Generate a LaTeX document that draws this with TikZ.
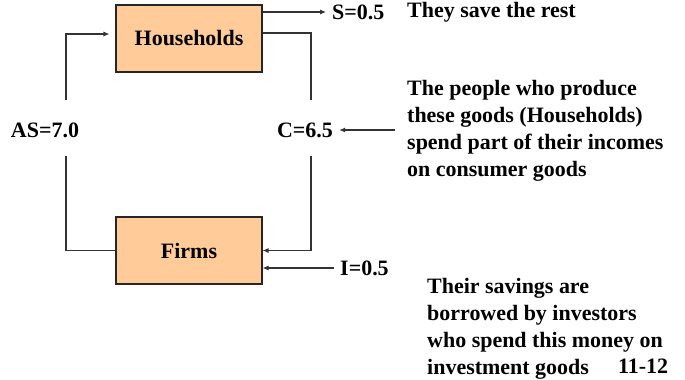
\documentclass[tikz,border=0pt]{standalone}
\usepackage{fontspec}
\setmainfont{Liberation Serif}
\usetikzlibrary{arrows.meta}
\definecolor{boxfill}{RGB}{255,204,153}

\begin{document}
\begin{tikzpicture}[x=0.02cm,y=-0.02cm,
	font=\fontsize{12.5}{15.3}\selectfont\bfseries,
	sector/.style={shape=rectangle,draw=black!85,fill=boxfill,minimum width=2.92cm,minimum height=1.34cm,line width=0.6pt},
	flow/.style={draw=black!80,line width=0.6pt},
	into/.style={flow,-{Latex[length=1.2mm,width=1mm]}},
	note/.style={anchor=west,align=left}]
	
	\useasboundingbox (0,0) rectangle (685,379);
	
	\node[sector] (hh)    at (189,38.5)  {Households};
	\node[sector] (firms) at (189,250.5) {Firms};
	
	\node[anchor=west] (s)    at (326,12)  {S=0.5};
	\node[anchor=west] (save) at (401,12)  {They save the rest};
	\node (as) at (45,130)  {AS=7.0};
	\node (c)  at (305,130) {C=6.5};
	\node[anchor=west] (i) at (334,268) {I=0.5};
	\node[note] (cons) at (401,131) {The people who produce\\these goods (Households)\\spend part of their incomes\\on consumer goods};
	\node[note] (inv)  at (421,329) {Their savings are\\borrowed by investors\\who spend this money on\\investment goods};
	\node[anchor=south,inner sep=1pt] (page) at (643,376) {11-12};
	
	\coordinate (rtop) at (311,100);
	\coordinate (rbot) at (311,156);
	\coordinate (ltop) at (66,100);
	\coordinate (lbot) at (66,156);
	
	% saving leaks out of the loop
	\draw[into] (hh.east |- s.west) -- (s.west);
	% spending on consumer goods
	\draw[flow] ([yshift=0.11cm]hh.east) -| (rtop);
	\draw[into] (rbot) |- (firms.east);
	% incomes paid back to households
	\draw[flow] (firms.west) -| (lbot);
	\draw[into,shorten >=0.12cm] (ltop) |- ([yshift=0.09cm]hh.west);
	% side arrows
	\draw[into,shorten <=0.12cm] (cons.west |- c.east) -- (c.east);
	\draw[into] (i.west) -- (firms.east |- i.west);
	
\end{tikzpicture}
\end{document}
